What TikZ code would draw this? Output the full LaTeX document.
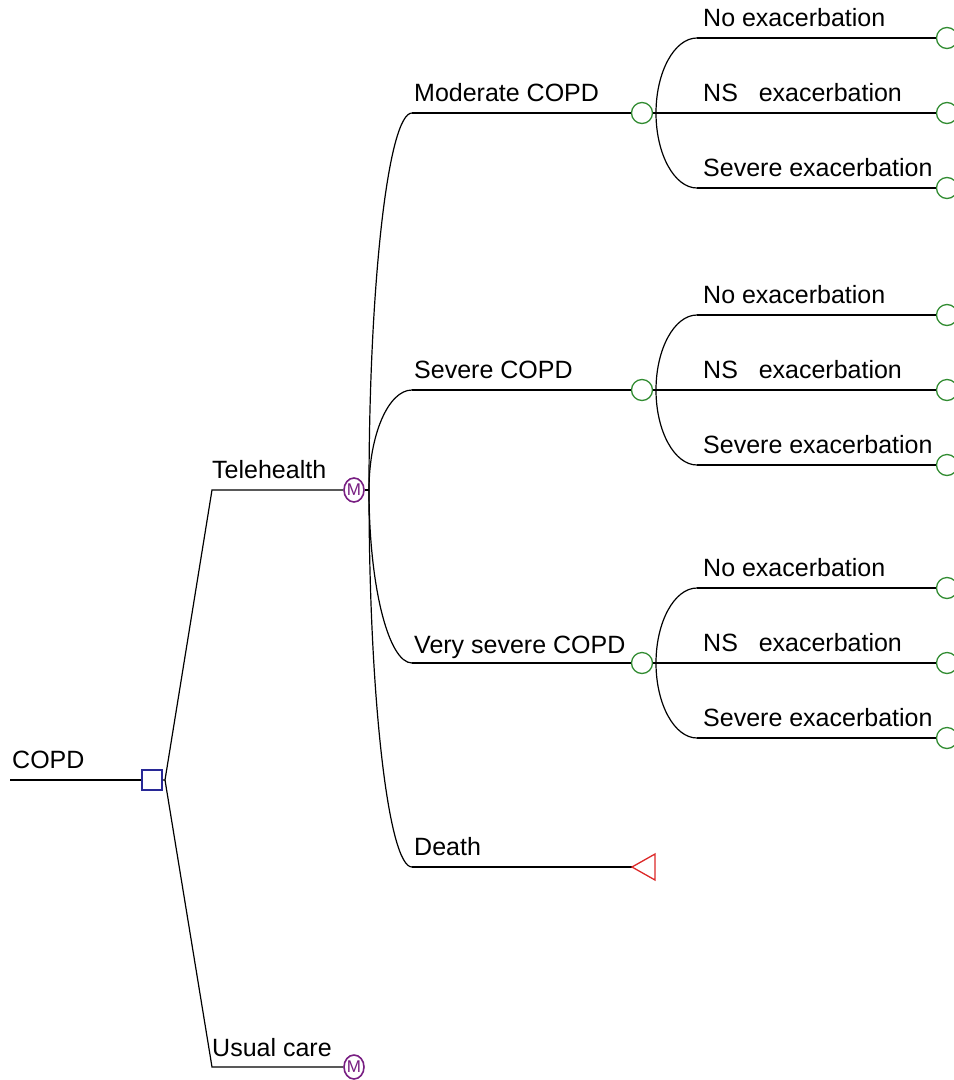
\documentclass[tikz,border=0pt]{standalone}
\usepackage{fontspec}
\setmainfont{Liberation Sans}
\usetikzlibrary{calc,shapes.geometric}
\definecolor{decblue}{RGB}{40,40,150}
\definecolor{chgreen}{RGB}{50,140,50}
\definecolor{mkpurple}{RGB}{120,30,130}
\definecolor{termred}{RGB}{220,40,40}

% quarter-ellipse branch: leaves #1 vertically, arrives at #2 horizontally
\newcommand\elbowto[2]{%
  \draw[wire] (#1) .. controls ($(#1)!0.55!(#1|-#2)$) and ($(#2)!0.55!(#1|-#2)$) .. (#2);}

% three exacerbation outcomes fanning out of chance node #1 at height #2
\newcommand\outcomeset[2]{%
  \coordinate (#1fork) at (656,#2);
  \draw[wire] (#1.east) -- (#1fork);
  \foreach \k/\dy/\txt in {1/-75/No exacerbation, 2/0/NS\ \ \ exacerbation, 3/75/Severe exacerbation}{
    \pgfmathsetmacro\yy{#2+\dy}
    \coordinate (#1o\k) at (697,\yy);
    \node[chance] (#1e\k) at (947,\yy) {};
    \elbowto{#1fork}{#1o\k}
    \draw[wire] (#1o\k) -- (#1e\k.west);
    \node[lbl] at (703,\yy-12) {\txt};
  }}

\begin{document}
\begin{tikzpicture}[x=1pt,y=-1pt,
  wire/.style={line width=1.2pt, black},
  decision/.style={draw=decblue, line width=1.6pt, minimum size=20pt, inner sep=0pt, fill=white},
  chance/.style={draw=chgreen, circle, line width=1.3pt, minimum size=21pt, inner sep=0pt, fill=white},
  markov/.style={draw=mkpurple, ellipse, line width=1.6pt, minimum width=20pt, minimum height=24pt,
    inner sep=0pt, fill=white, text=mkpurple, font=\fontsize{17}{17}\selectfont},
  lbl/.style={anchor=base west, inner sep=0pt, font=\fontsize{25}{30}\selectfont},
  terminal/.style={draw=termred, line width=1.3pt, line join=miter}]
\useasboundingbox (0,0) rectangle (954,1080);

% root and decision node
\coordinate (root) at (10,780);
\node[decision] (dec) at (152,780) {};
\draw[wire] (root) -- (dec.west);
\node[lbl] at (12,768) {COPD};

% strategies
\coordinate (dfork) at (165,780);
\coordinate (teleA) at (212,490);
\coordinate (usualA) at (212,1067);
\node[markov] (mTele) at (354,490) {M};
\node[markov] (mUsual) at (354,1067) {M};
\draw[wire] (dec.east) -- (dfork) -- (teleA) -- (mTele.west);
\draw[wire] (dfork) -- (usualA) -- (mUsual.west);
\node[lbl] at (212,478) {Telehealth};
\node[lbl] at (212,1056) {Usual care};

% Markov states under telehealth
\coordinate (mFork) at (369,490);
\draw[wire] (mTele.east) -- (mFork);

\coordinate (sMod) at (412,113);
\coordinate (sSev) at (412,390);
\coordinate (sVs) at (412,663);
\coordinate (sDeath) at (412,867);
\node[chance] (cMod) at (642,113) {};
\node[chance] (cSev) at (642,390) {};
\node[chance] (cVs) at (642,663) {};
\coordinate (dEnd) at (632,867);

\elbowto{mFork}{sMod}
\elbowto{mFork}{sSev}
\elbowto{mFork}{sVs}
\elbowto{mFork}{sDeath}
\draw[wire] (sMod) -- (cMod.west);
\draw[wire] (sSev) -- (cSev.west);
\draw[wire] (sVs) -- (cVs.west);
\draw[wire] (sDeath) -- (dEnd);
\draw[terminal] (dEnd) -- ++(23,-13) -- ++(0,26) -- cycle;

\node[lbl] at (414,101) {Moderate COPD};
\node[lbl] at (414,378) {Severe COPD};
\node[lbl] at (414,653) {Very severe COPD};
\node[lbl] at (414,855) {Death};

% exacerbation outcomes
\outcomeset{cMod}{113}
\outcomeset{cSev}{390}
\outcomeset{cVs}{663}
\end{tikzpicture}
\end{document}
